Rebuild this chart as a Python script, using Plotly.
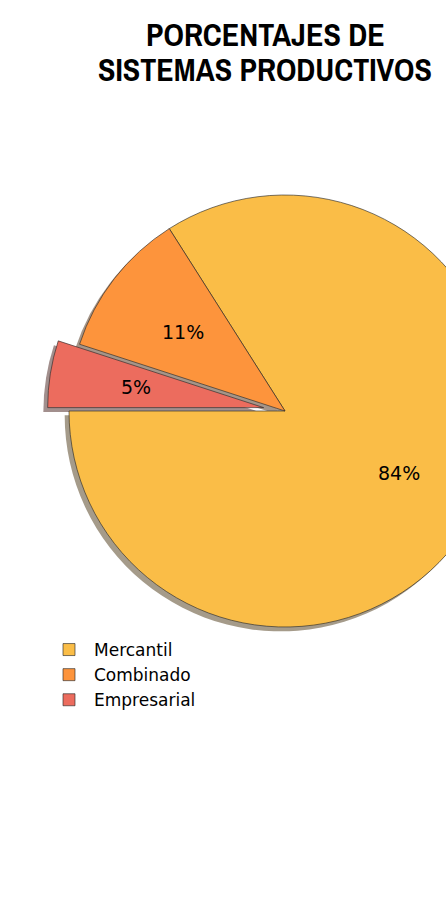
import math
import plotly.graph_objects as go

labels = ["Mercantil", "Combinado", "Empresarial"]
values = [84, 11, 5]
colors = ["#FABD47", "#FD943C", "#EC6C5E"]
pulls = [0, 0, 0.1]
title_lines = ["PORCENTAJES DE", "SISTEMAS PRODUCTIVOS"]

W, H = 530, 918
CX, CY, R = 285, 411, 216           # pie centre / radius (px)
maxpull = max(pulls)
half = R * (1 + maxpull)
total = sum(values)
# matplotlib-like: first slice starts at 9 o'clock, counterclockwise
rot = -90 - 360.0 * values[0] / total
rot = ((rot + 180) % 360) - 180


def dom(cx, cy):
    return dict(x=[(cx - half) / W, (cx + half) / W],
                y=[1 - (cy + half) / H, 1 - (cy - half) / H])


def shadow_col(c):
    r, g, b = int(c[1:3], 16), int(c[3:5], 16), int(c[5:7], 16)
    return f"rgba({int(r*0.3)},{int(g*0.3)},{int(b*0.3)},0.5)"


fig = go.Figure()
sh = 0.02 * R
fig.add_trace(go.Pie(
    labels=labels, values=values, sort=False, direction="counterclockwise",
    rotation=rot, pull=pulls, domain=dom(CX - sh, CY + sh),
    marker=dict(colors=[shadow_col(c) for c in colors], line=dict(width=0)),
    textinfo="none", hoverinfo="skip", showlegend=False,
))
fig.add_trace(go.Pie(
    labels=labels, values=values, sort=False, direction="counterclockwise",
    rotation=rot, pull=pulls, domain=dom(CX, CY),
    marker=dict(colors=colors, line=dict(color="rgba(40,40,40,0.9)", width=0.7)),
    textinfo="none", showlegend=True,
))

start = 180.0
for v, p in zip(values, pulls):
    span = 360.0 * v / total
    mid = math.radians(start + span / 2)
    d = (0.6 + p) * R
    px = CX + d * math.cos(mid)
    py = CY - d * math.sin(mid)
    fig.add_annotation(x=px / W, y=1 - py / H, xref="paper", yref="paper",
                       xanchor="center", yanchor="middle",
                       text=f"{round(100 * v / total)}%", showarrow=False,
                       font=dict(family="DejaVu Sans", size=19, color="black"))
    start += span

for line, yc in zip(title_lines, [34, 69]):
    fig.add_annotation(x=265 / W, y=1 - yc / H, xref="paper", yref="paper",
                       xanchor="center", yanchor="middle", showarrow=False,
                       height=34, valign="middle",
                       text=f"<b>{line}</b>",
                       font=dict(family="Archivo Narrow, DejaVu Sans Condensed", size=32,
                                 color="black"))

fig.update_layout(
    width=W, height=H, autosize=False,
    margin=dict(l=0, r=0, t=0, b=0),
    paper_bgcolor="white", plot_bgcolor="white",
    legend=dict(x=44 / W, y=1 - 632 / H, xanchor="left", yanchor="top",
                itemwidth=40,
                font=dict(family="DejaVu Sans", size=17, color="black"),
                bgcolor="rgba(0,0,0,0)"),
)

fig.write_html("out.html",
               post_script="document.body.style.margin='0';"
                           "document.body.style.overflow='hidden';")
